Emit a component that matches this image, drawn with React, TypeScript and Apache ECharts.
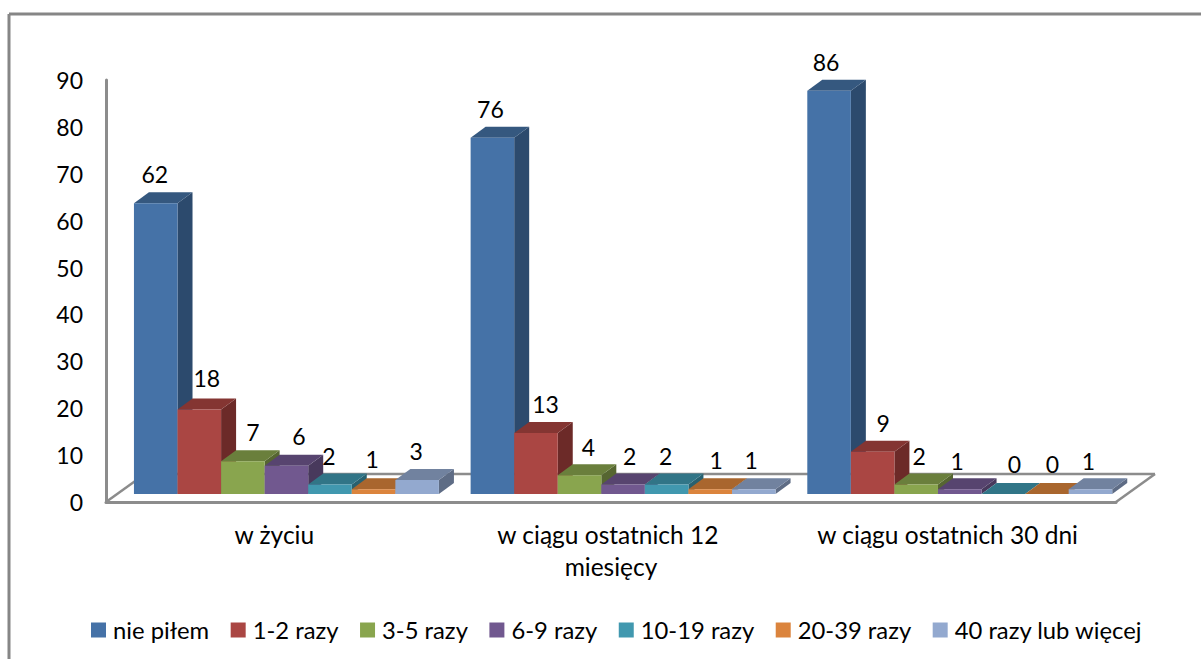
import React, { useEffect, useRef } from "react";
import * as echarts from "echarts";

const categories = ["w życiu", "w ciągu ostatnich 12 miesięcy", "w ciągu ostatnich 30 dni"];
const seriesNames = ["nie piłem", "1-2 razy", "3-5 razy", "6-9 razy", "10-19 razy", "20-39 razy", "40 razy lub więcej"];
const niePilem = [62, 76, 86];
const raz12 = [18, 13, 9];
const raz35 = [7, 4, 2];
const raz69 = [6, 2, 1];
const raz1019 = [2, 2, 0];
const raz2039 = [1, 1, 0];
const raz40 = [3, 1, 1];
const seriesValues = [niePilem, raz12, raz35, raz69, raz1019, raz2039, raz40];

const frontColors = ["#4572A7", "#AA4643", "#89A54E", "#71588F", "#4198AF", "#DB843D", "#93A9CF"];
const topColors = ["#35587F", "#843532", "#6A7F3C", "#57446F", "#317587", "#A9662E", "#71829F"];
const sideColors = ["#2C4A6D", "#6C2A28", "#566631", "#48395C", "#286170", "#8C5526", "#5E6C85"];

// label placement relative to the bar's front-top centre, per series then per category
const labelDx = [
  [-1, -2, -3],
  [7.5, 9.5, 10.5],
  [10, 9, 3],
  [12.5, 6.5, -2.5],
  [-1, -1, 11],
  [-1.5, 6, 5.5],
  [-1, -2.5, -2],
];
const labelDy = [
  [-29, -28.6, -28.7],
  [-32, -29, -28.8],
  [-29, -28, -28.6],
  [-30, -28.6, -28.3],
  [-28.6, -28.6, -30],
  [-30, -29, -30],
  [-29, -29, -28.3],
];

const FONT = "Lato";
const FONT_SIZE = 24.5;
const NUMBER_SIZE = 23;
const LEGEND_SIZE = 23.8;
const AXIS_COLOR = "#8C8C8C";
const BORDER_COLOR = "#868686";
const DEPTH_X = 15;
const DEPTH_Y = 11;
const SHIFT_X = 12.1;
const SHIFT_Y = -8;
const BAR_SHARE = 0.1294;

export default function App() {
  const ref = useRef<HTMLDivElement>(null);
  useEffect(() => {
    const chart = echarts.init(ref.current!, null, { renderer: "svg" });
    const makeSeries = (sIdx: number) => ({
      type: "custom",
      name: seriesNames[sIdx],
      itemStyle: { color: frontColors[sIdx] },
      encode: { x: 0, y: 1 },
      data: seriesValues[sIdx].map((v, i) => [i, v]),
      renderItem: (_p: any, api: any) => {
        const cat = api.value(0);
        const val = api.value(1);
        const top = api.coord([cat, val]);
        const base = api.coord([cat, 0]);
        const catW = api.size([1, 0])[0];
        const w = catW * BAR_SHARE;
        const x0 = top[0] + SHIFT_X + (sIdx - 3.5) * w;
        const x1 = x0 + w;
        const yT = top[1] + SHIFT_Y;
        const yB = base[1] + SHIFT_Y;
        return {
          type: "group",
          children: [
            {
              type: "polygon",
              shape: { points: [[x1, yT], [x1 + DEPTH_X, yT - DEPTH_Y], [x1 + DEPTH_X, yB - DEPTH_Y], [x1, yB]] },
              style: { fill: sideColors[sIdx] },
            },
            {
              type: "polygon",
              shape: { points: [[x0, yT], [x1, yT], [x1 + DEPTH_X, yT - DEPTH_Y], [x0 + DEPTH_X, yT - DEPTH_Y]] },
              style: { fill: topColors[sIdx] },
            },
            {
              type: "polygon",
              shape: { points: [[x0, yT], [x1, yT], [x1, yB], [x0, yB]] },
              style: { fill: frontColors[sIdx] },
            },
            {
              type: "text",
              x: (x0 + x1) / 2 + labelDx[sIdx][cat],
              y: yT + labelDy[sIdx][cat],
              z2: 50,
              style: {
                text: String(val),
                fill: "#000",
                fontFamily: FONT,
                fontSize: NUMBER_SIZE,
                align: "center",
                verticalAlign: "middle",
              },
            },
          ],
        };
      },
    });
    const lineStyle = { stroke: AXIS_COLOR, lineWidth: 2.5 };
    const borderStyle = { stroke: BORDER_COLOR, lineWidth: 3 };
    chart.setOption({
      animation: false,
      backgroundColor: "#fff",
      textStyle: { fontFamily: FONT },
      grid: { left: 106, top: 80, width: 1010, height: 422, containLabel: false },
      xAxis: {
        type: "category",
        data: categories,
        axisLine: { show: true, lineStyle: { color: AXIS_COLOR, width: 3 } },
        axisTick: { show: false },
        splitLine: { show: false },
        axisLabel: {
          interval: 0,
          margin: 16,
          color: "#000",
          fontFamily: FONT,
          fontSize: FONT_SIZE,
          lineHeight: 32,
          width: 285,
          overflow: "break",
        },
      },
      yAxis: {
        type: "value",
        min: 0,
        max: 90,
        interval: 10,
        axisLine: { show: true, onZero: false, lineStyle: { color: AXIS_COLOR, width: 3 } },
        axisTick: { show: false },
        splitLine: { show: false },
        axisLabel: { margin: 23, color: "#000", fontFamily: FONT, fontSize: NUMBER_SIZE },
      },
      legend: {
        left: 91,
        top: 618,
        icon: "rect",
        itemWidth: 15,
        itemHeight: 15,
        itemGap: 21.5,
        padding: 0,
        data: seriesNames,
        textStyle: { color: "#000", fontFamily: FONT, fontSize: LEGEND_SIZE, padding: [0, 0, 0, 2] },
      },
      graphic: [
        { type: "line", z: 0, shape: { x1: 106, y1: 502, x2: 145, y2: 474 }, style: lineStyle },
        { type: "line", z: 0, shape: { x1: 145, y1: 474, x2: 1155, y2: 474 }, style: lineStyle },
        { type: "line", z: 0, shape: { x1: 1155, y1: 474, x2: 1116, y2: 502 }, style: lineStyle },
        { type: "line", z: 0, shape: { x1: 9, y1: 14, x2: 1201, y2: 14 }, style: borderStyle },
        { type: "line", z: 0, shape: { x1: 9, y1: 14, x2: 9, y2: 659 }, style: borderStyle },
      ],
      series: seriesNames.map((_, i) => makeSeries(i)),
    });
    return () => chart.dispose();
  }, []);
  return <div ref={ref} style={{ position: "absolute", left: 0, top: 0, width: 1201, height: 659 }} />;
}
